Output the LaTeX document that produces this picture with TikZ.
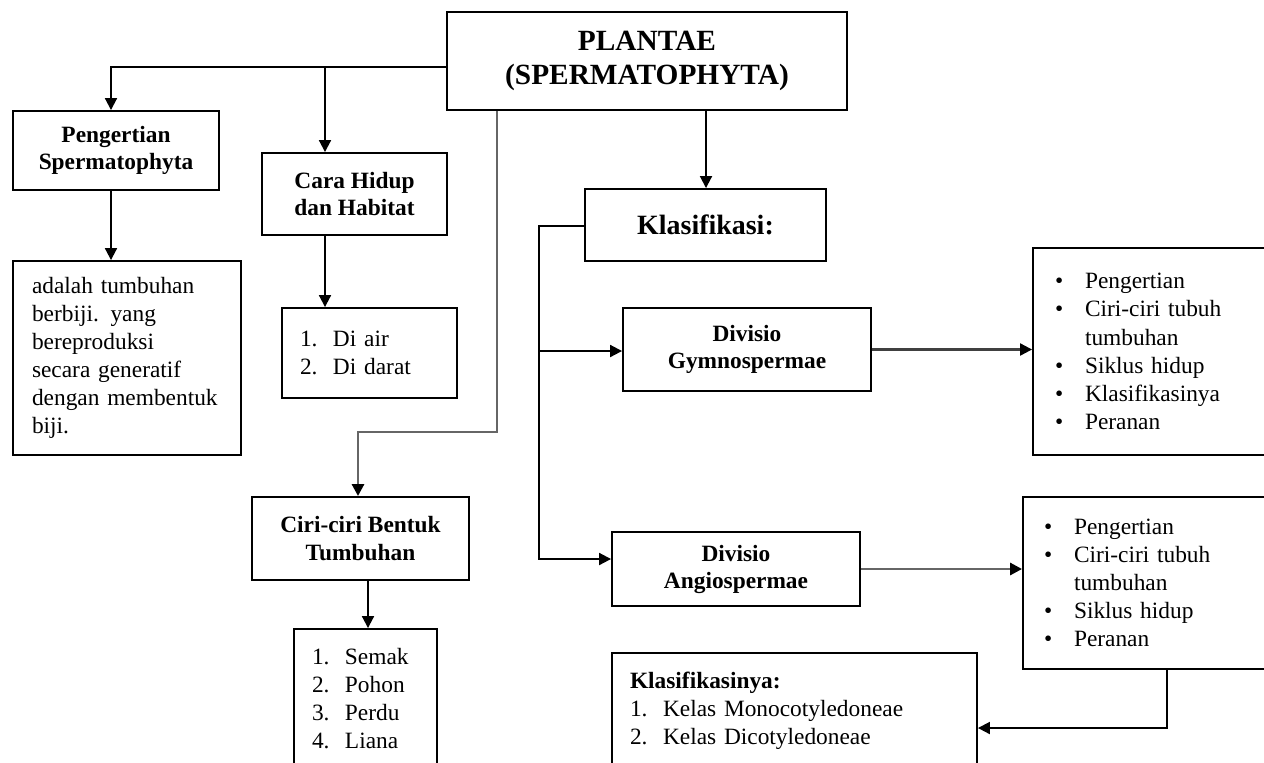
\documentclass[tikz,border=0pt]{standalone}
\usepackage{fontspec}
\setmainfont{Liberation Serif}
\usepackage{tikz}
\usetikzlibrary{arrows.meta, positioning}
\tikzset{
    >={Triangle[length=6.8pt, width=6.8pt]}, % filled arrow heads
    every node/.style={font=\fontsize{13.3}{16}\selectfont}, % body text size
    box/.style={draw, rectangle, line width=1.1pt, align=center, font=\bfseries\fontsize{13.3}{15.4}\selectfont}, % heading boxes
    listbox/.style={draw, rectangle, line width=1.1pt, align=left, inner xsep=0.36cm}, % boxes holding lists
    link/.style={->, line width=1.1pt}, % plain connectors
    greylink/.style={link, draw=black!60, line width=1.6pt, -{Triangle[length=6.8pt, width=6.8pt, color=black]}}, % the grey ones
}
\newcommand{\num}[1]{\makebox[0.66cm][l]{#1}}
\newcommand{\bul}{\makebox[0.6cm][l]{\textbullet}}

\begin{document}
\begin{tikzpicture}[x=0.02cm, y=-0.02cm]
\clip (0,0) rectangle (1264,762);
\node[box, minimum width=8cm, minimum height=1.96cm, font=\bfseries\fontsize{16.7}{19.3}\selectfont] (plantae) at (647,61) {PLANTAE\\(SPERMATOPHYTA)};
\node[box, minimum width=4.12cm, minimum height=1.58cm] (pengertian) at (116,150.5) {Pengertian\\Spermatophyta};
\node[box, minimum width=3.7cm, minimum height=1.64cm] (cara) at (354.5,194) {Cara Hidup\\dan Habitat};
\node[listbox, text width=3.8cm, inner xsep=0.38cm, minimum height=3.88cm] (definisi) at (127,358) {adalah tumbuhan\\berbiji. yang\\bereproduksi\\secara generatif\\dengan membentuk\\biji.};
\node[listbox, text width=2.78cm, minimum height=1.8cm] (caralist) at (369.5,353) {\num{1.}Di air\\\num{2.}Di darat};
\node[box, minimum width=4.34cm, minimum height=1.66cm] (ciri) at (360.5,538.5) {Ciri-ciri Bentuk\\Tumbuhan};
\node[listbox, text width=2.14cm, minimum height=2.78cm] (semak) at (365.5,698.5) {\num{1.}Semak\\\num{2.}Pohon\\\num{3.}Perdu\\\num{4.}Liana};
\node[box, minimum width=4.82cm, minimum height=1.44cm, font=\bfseries\fontsize{15.9}{18}\selectfont] (klasifikasi) at (705.5,225) {Klasifikasi:};
\node[box, minimum width=4.96cm, minimum height=1.66cm] (gymno) at (747,349.5) {Divisio\\Gymnospermae};
\node[listbox, text width=4.26cm, inner xsep=0.44cm, minimum height=4.14cm] (gymnolist) at (1161.5,351.5) {\bul Pengertian\\\bul Ciri-ciri tubuh\\\hspace*{0.6cm}tumbuhan\\\bul Siklus hidup\\\bul Klasifikasinya\\\bul Peranan};
\node[box, minimum width=4.96cm, minimum height=1.48cm] (angio) at (736,569) {Divisio\\Angiospermae};
\node[listbox, text width=4.5cm, inner xsep=0.42cm, minimum height=3.44cm] (angiolist) at (1156.5,583) {\bul Pengertian\\\bul Ciri-ciri tubuh\\\hspace*{0.6cm}tumbuhan\\\bul Siklus hidup\\\bul Peranan};
\node[listbox, text width=6.58cm, minimum height=2.3cm] (klasnya) at (794.5,710.5) {\textbf{Klasifikasinya:}\\\num{1.}Kelas Monocotyledoneae\\\num{2.}Kelas Dicotyledoneae};

\coordinate (pj) at (111,67);
\coordinate (cj) at (325,67);
\coordinate (bj) at (497,432);
\coordinate (bk) at (358,432);
\coordinate (sj) at (368,600);
\coordinate (kj) at (706,150);
\coordinate (vj) at (539,226);
\coordinate (vg) at (539,351);
\coordinate (va) at (539,559);
\coordinate (rj) at (1167,728);

\draw[link] (plantae.west |- pj) -- (pj) -- (pj |- pengertian.north);
\draw[link] (cj) -- (cj |- cara.north);
\draw[link] (pj |- pengertian.south) -- (pj |- definisi.north);
\draw[link] (cj |- cara.south) -- (cj |- caralist.north);
\draw[greylink] (bj |- plantae.south) -- (bj) -- (bk) -- (bk |- ciri.north);
\draw[link] (sj |- ciri.south) -- (sj |- semak.north);
\draw[link] (kj |- plantae.south) -- (kj |- klasifikasi.north);
\draw[link] (klasifikasi.west |- vj) -- (vj) -- (va) -- (va -| angio.west);
\draw[link] (vg) -- (vg -| gymno.west);
\draw[greylink, draw=black!75, line width=1.2pt] (gymno.east) -- (gymno.east -| gymnolist.west);
\draw[greylink] (angio.east) -- (angio.east -| angiolist.west);
\draw[link] (rj |- angiolist.south) -- (rj) -- (rj -| klasnya.east);
\end{tikzpicture}
\end{document}
